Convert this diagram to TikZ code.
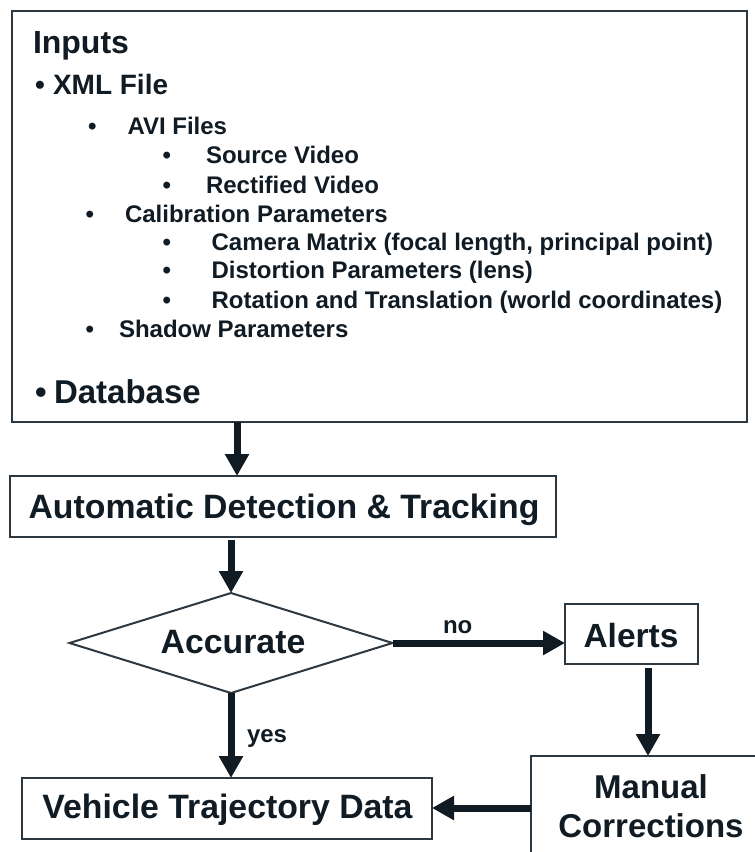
\documentclass[tikz,border=0pt]{standalone}
\usepackage{fontspec}
\setmainfont{Liberation Sans}
\usetikzlibrary{arrows.meta,shapes.geometric,calc}
\definecolor{ink}{HTML}{101B24}
\definecolor{edge}{HTML}{2E3841}
\begin{document}
\begin{tikzpicture}[x=1pt,y=-1pt,
  txt/.style={anchor=base west,inner sep=0pt,outer sep=0pt,text=ink,font=\bfseries\fontsize{#1}{#1}\selectfont},
  ctxt/.style={anchor=base,inner sep=0pt,outer sep=0pt,text=ink,font=\bfseries\fontsize{#1}{#1}\selectfont},
  boxshape/.style={draw=edge,line width=2pt,rectangle,inner sep=0pt,outer sep=0pt,fill=white},
  decision/.style={draw=edge,line width=2pt,diamond,inner sep=0pt,outer sep=0pt,fill=white},
  arr/.style={line width=7pt,draw=ink,-{Triangle[length=22pt,width=23pt]}}
]
\useasboundingbox (0,0) rectangle (755,852);
\fill[white] (0,0) rectangle (755,852);
\clip (0,0) rectangle (755,852);

% input box
\node[boxshape,line width=2.7pt,minimum width=735pt,minimum height=411pt] (inputs) at (379.5,216.5) {};
\node[txt=32] (tInputs) at (33,53.3) {Inputs};
\node[txt=28] (b1) at (35,94) {•};
\node[txt=28] (tXML) at (53,94) {XML File};
\node[txt=24] (b2) at (88,134) {•};
\node[txt=24] (tAVI) at (127.5,134) {AVI Files};
\node[txt=24] (b3) at (162.5,163) {•};
\node[txt=24] (tSrc) at (206,163) {Source Video};
\node[txt=24] (b4) at (162.5,193) {•};
\node[txt=24] (tRect) at (206,193) {Rectified Video};
\node[txt=24] (b5) at (85.5,222) {•};
\node[txt=24] (tCal) at (125,222) {Calibration Parameters};
\node[txt=24] (b6) at (162.5,250) {•};
\node[txt=24] (tCam) at (211.6,250) {Camera Matrix (focal length, principal point)};
\node[txt=24] (b7) at (162.5,278) {•};
\node[txt=24] (tDist) at (211.6,278) {Distortion Parameters (lens)};
\node[txt=24] (b8) at (162.5,308) {•};
\node[txt=24] (tRot) at (211.6,308) {Rotation and Translation (world coordinates)};
\node[txt=24] (b9) at (85.5,337) {•};
\node[txt=24] (tShadow) at (119,337) {Shadow Parameters};
\node[txt=33] (b10) at (35,403) {•};
\node[txt=33] (tDB) at (54,403) {Database};

% flow boxes
\node[boxshape,minimum width=546pt,minimum height=61pt] (adt) at (283,506.5) {};
\node[ctxt=33.8] (tadt) at (284,518) {Automatic Detection \& Tracking};

\node[decision,minimum width=323pt,minimum height=100pt] (dia) at (231,643) {};
\node[ctxt=33.8] (tdia) at (233,653) {Accurate};

\node[boxshape,minimum width=133pt,minimum height=60pt] (alerts) at (631.5,634) {};
\node[ctxt=33.5] (talerts) at (631,647) {Alerts};

\node[boxshape,minimum width=410pt,minimum height=61pt] (veh) at (227,808.5) {};
\node[ctxt=33.8] (tveh) at (227.5,818) {Vehicle Trajectory Data};

\node[boxshape,minimum width=240pt,minimum height=120pt] (man) at (651,816) {};
\node[ctxt=33] (tman1) at (651,798) {Manual};
\node[ctxt=33] (tman2) at (651,837) {Corrections};

% connector helpers
\coordinate (x1) at (237,0);
\coordinate (x4) at (648,0);
\coordinate (y6) at (0,808);

% arrows
\draw[arr] (x1 |- inputs.south) -- (x1 |- adt.north);
\draw[arr] ($(dia.north |- adt.south)+(0,3)$) -- (dia.north);
\draw[arr] (dia.east) -- (dia.east -| alerts.west);
\draw[arr] ($(x4 |- alerts.south)+(0,4)$) -- (x4 |- man.north);
\draw[arr] (dia.south) -- (dia.south |- veh.north);
\draw[arr] (y6 -| man.west) -- (y6 -| veh.east);

% labels
\node[txt=24] (lno) at (443,633) {no};
\node[txt=24] (lyes) at (247,742) {yes};
\end{tikzpicture}
\end{document}
